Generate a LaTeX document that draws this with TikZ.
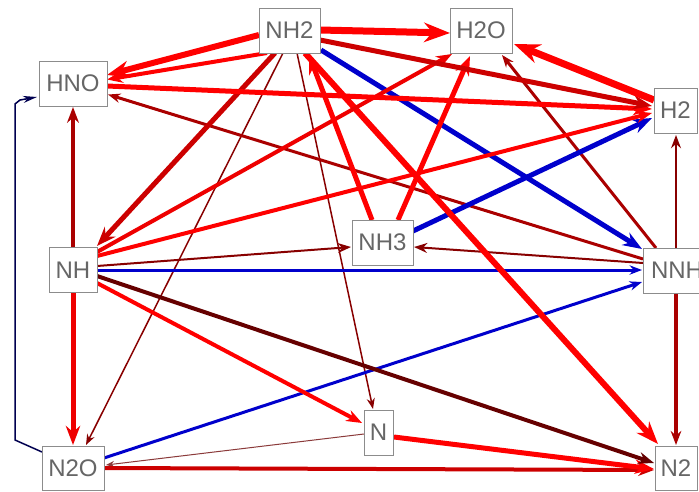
\documentclass[tikz,border=0pt]{standalone}
\usepackage{fontspec}
\setmainfont{Liberation Sans}
\usetikzlibrary{arrows.meta,calc}
\pgfdeclarelayer{bg}
\pgfsetlayers{bg,main}
\definecolor{rA}{HTML}{FF0000}
\definecolor{rB}{HTML}{EE0000}
\definecolor{rC}{HTML}{CC0000}
\definecolor{rD}{HTML}{AA0000}
\definecolor{rE}{HTML}{880000}
\definecolor{rF}{HTML}{660000}
\definecolor{bl}{HTML}{0000CC}
\definecolor{nv}{HTML}{000050}
\definecolor{br}{HTML}{8B3A3A}
\definecolor{boxgray}{HTML}{8C8C8C}
\definecolor{txtgray}{HTML}{666666}
\begin{document}
\begin{tikzpicture}[x=1pt,y=-1pt,
  sp/.style={draw=boxgray,line width=1pt,fill=white,text=txtgray,
    font=\fontsize{24}{24}\selectfont,inner sep=0pt,minimum height=45pt},
  ed/.style={-{Stealth[scale=0.75]}},
  edt/.style={-{Stealth[scale=1.1]}}]
\useasboundingbox (0,0) rectangle (699,491);
% nodes
\node[sp,minimum width=61pt] (NH2) at (289.5,30.5) {NH2};
\node[sp,minimum width=62pt] (H2O) at (481,30.5) {H2O};
\node[sp,minimum width=68pt] (HNO) at (73,83.5) {HNO};
\node[sp,minimum width=43pt] (H2) at (675.5,110.5) {H2};
\node[sp,minimum width=61pt] (NH3) at (382.5,242.5) {NH3};
\node[sp,minimum width=48pt] (NH) at (73,270) {NH};
\node[sp,minimum width=68pt] (NNH) at (677,270.5) {NNH};
\node[sp,minimum width=29pt] (N) at (378.5,432.5) {N};
\node[sp,minimum width=62pt,minimum height=44pt] (N2O) at (73,468) {N2O};
\node[sp,minimum width=42pt,minimum height=44pt] (N2) at (676,468) {N2};
\begin{pgfonlayer}{bg}
\fill[white] (0,0) rectangle (699,491);
% thin ones first
\draw[edt,br,line width=1pt] ($(N)+(-14.5,1.5)$) -- ($(N2O)+(33,-3)$);
\draw[edt,rE,line width=1.5pt] ($(NH2)+(7.5,22.5)$) -- ($(N)+(-5.5,-23.5)$);
\draw[edt,rE,line width=1.5pt] ($(NH2)+(-6.5,22.5)$) -- ($(N2O)+(13,-23)$);
\draw[edt,rE,line width=2pt] ($(NNH)+(-1,-22.5)$) -- ($(H2)+(0.5,24.5)$);
\draw[edt,rE,line width=2pt] ($(NNH)+(-34,-7.5)$) -- ($(NH3)+(31.5,4.5)$);
\draw[edt,rE,line width=2pt] ($(NH)+(24,-4)$) -- ($(NH3)+(-31.5,4.5)$);
\draw[ed,rD,line width=3pt] ($(NNH)+(-21,-22.5)$) -- ($(H2O)+(21,24.5)$);
\draw[ed,rD,line width=3pt] ($(NNH)+(-34,-11.5)$) -- ($(HNO)+(35,11)$);
\draw[ed,rD,line width=3.5pt] ($(NNH)+(-1,22.5)$) -- ($(N2)+(0,-23)$);
\draw[ed,rD,line width=4pt] ($(NH)+(0,-23)$) -- ($(HNO)+(0,23.5)$);
% blue
\draw[ed,bl,line width=3pt] ($(NH)+(24,0)$) -- ($(NNH)+(-35,-0.5)$);
\draw[ed,bl,line width=3pt] ($(N2O)+(31,-10)$) -- ($(NNH)+(-35,11.5)$);
\draw[ed,bl,line width=5pt] ($(NH2)+(31.5,19.5)$) -- ($(NNH)+(-35,-21.5)$);
\draw[ed,bl,line width=5pt] ($(NH3)+(30.5,-11.5)$) -- ($(H2)+(-23.5,7.5)$);
% reds
\draw[ed,rC,line width=4pt] ($(N2O)+(31,0)$) -- ($(N2)+(-22,2)$);
\draw[ed,rA,line width=5pt] ($(N)+(15.5,4.5)$) -- ($(N2)+(-22,1)$);
\draw[ed,rF,line width=4pt] ($(NH)+(24,6)$) -- ($(N2)+(-22,-5)$);
\draw[ed,rA,line width=4pt] ($(NH)+(24,13)$) -- ($(N)+(-16.5,-9.5)$);
\draw[ed,rB,line width=5pt] ($(NH)+(0,23)$) -- ($(N2O)+(0,-23)$);
\draw[ed,rA,line width=6pt] ($(NH2)+(15.5,22.5)$) -- ($(N2)+(-18,-24)$);
\draw[ed,rC,line width=5pt] ($(NH2)+(-14.5,22.5)$) -- ($(NH)+(24,-24)$);
\draw[ed,rB,line width=4pt] ($(NH)+(24,-18)$) -- ($(H2O)+(-29,23.5)$);
\draw[ed,rA,line width=4pt] ($(NH)+(24,-14)$) -- ($(H2)+(-23.5,2.5)$);
\draw[ed,rA,line width=5pt] ($(NH3)+(15.5,-22.5)$) -- ($(H2O)+(-11,25.5)$);
\draw[ed,rA,line width=5pt] ($(NH3)+(-10.5,-22.5)$) -- ($(NH2)+(19.5,24.5)$);
\draw[ed,rA,line width=5pt] ($(HNO)+(34,2.5)$) -- ($(H2)+(-23.5,-1.5)$);
\draw[ed,rC,line width=5pt] ($(NH2)+(30.5,9.5)$) -- ($(H2)+(-23.5,-4.5)$);
\draw[ed,rA,line width=4pt] ($(NH2)+(-22.5,22.5)$) -- ($(HNO)+(34,-4)$);
\draw[ed,rA,line width=6pt] ($(NH2)+(-30.5,4.5)$) -- ($(HNO)+(34,-8.5)$);
\draw[ed,rA,line width=7pt] ($(NH2)+(30.5,-0.5)$) -- ($(H2O)+(-31,2.5)$);
\draw[ed,rA,line width=7pt] ($(H2)+(-21.5,-10.5)$) -- ($(H2O)+(33,13.5)$);
% navy
\draw[-{Stealth[length=14pt,width=7pt]},nv,line width=1.5pt]
  ($(N2O)+(-31,-16)$) -- ++(-27,-12) -- ++(0,-336) -- ++(5,-4) -- ($(HNO)+(-36,13.5)$);
\end{pgfonlayer}
\end{tikzpicture}
\end{document}
